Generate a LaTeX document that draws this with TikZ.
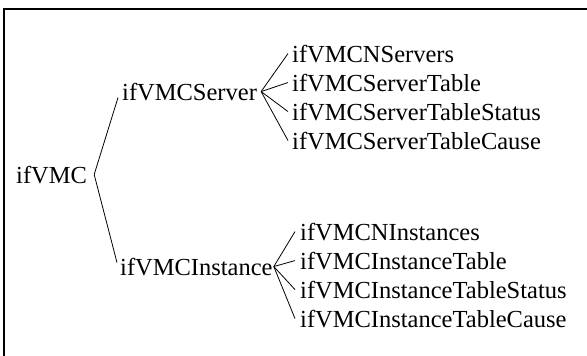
\documentclass[tikz,border=0pt]{standalone}
\usepackage{fontspec}
\setmainfont{Liberation Serif}
\begin{document}
\begin{tikzpicture}[x=1pt,y=-1pt,
  label/.style={anchor=base west,inner xsep=3pt,inner ysep=0pt,font=\fontsize{24.5}{26}\selectfont},
  branch/.style={line width=0.8pt},
  frameline/.style={line width=2pt}]
\useasboundingbox (0,0) rectangle (587,356);
\fill[white] (0,0) rectangle (587,356);
% frame (only top and left edges fall inside the page)
\draw[frameline] (3.5,360) -- (3.5,8.5) -- (590,8.5);

% tree nodes
\node[label] (root) at (13,183) {ifVMC};
\node[label] (srv)  at (119,100) {ifVMCServer};
\node[label] (inst) at (117,275) {ifVMCInstance};

\node[label] (s1) at (289,62)  {ifVMCNServers};
\node[label] (s2) at (289,91)  {ifVMCServerTable};
\node[label] (s3) at (289,120) {ifVMCServerTableStatus};
\node[label] (s4) at (289,149) {ifVMCServerTableCause};

\node[label] (i1) at (297,240) {ifVMCNInstances};
\node[label] (i2) at (297,269) {ifVMCInstanceTable};
\node[label] (i3) at (297,298) {ifVMCInstanceTableStatus};
\node[label] (i4) at (297,327) {ifVMCInstanceTableCause};

% root branches
\draw[branch] ([xshift=4pt]root.east) -- ([xshift=-1pt,yshift=-6pt]srv.west);
\draw[branch] ([xshift=4pt]root.east) -- ([yshift=4pt]inst.west);

% server branches
\foreach \c in {s1,s2,s3,s4}
  \draw[branch] ([xshift=1pt]srv.east) -- ([xshift=-1pt]\c.west);
% instance branches
\foreach \c in {i1,i2,i3,i4}
  \draw[branch] ([xshift=-2pt]inst.east) -- ([xshift=-2pt]\c.west);
\end{tikzpicture}
\end{document}
